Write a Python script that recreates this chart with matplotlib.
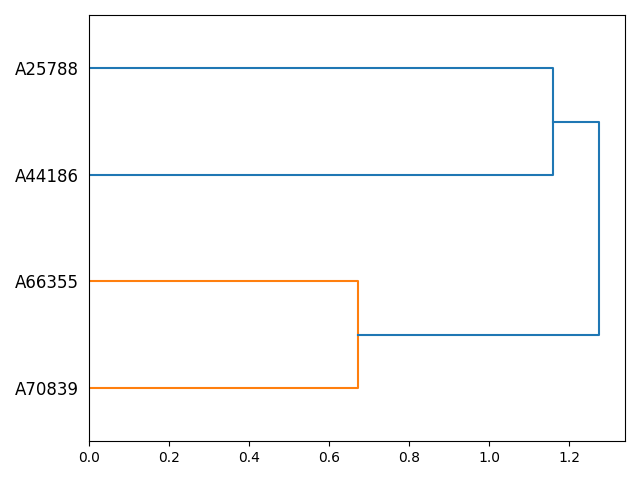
import matplotlib
matplotlib.use("Agg")
import matplotlib.pyplot as plt

# Leaf labels, bottom to top
labels = ["A70839", "A66355", "A44186", "A25788"]

# Merge heights (distances)
h_orange = 0.672
h_blue_top = 1.16
h_root = 1.275

# Leaf positions as scipy lays them out (5, 15, 25, ...)
leaf_pos = [5 + 10 * i for i in range(len(labels))]

# Links as (y-coords, x-coords, colour), same form as scipy's icoord/dcoord
orange_mid = (leaf_pos[0] + leaf_pos[1]) / 2
blue_mid = (leaf_pos[2] + leaf_pos[3]) / 2
links = [
    ([leaf_pos[0], leaf_pos[0], leaf_pos[1], leaf_pos[1]], [0, h_orange, h_orange, 0], "C1"),
    ([leaf_pos[2], leaf_pos[2], leaf_pos[3], leaf_pos[3]], [0, h_blue_top, h_blue_top, 0], "C0"),
    ([orange_mid, orange_mid, blue_mid, blue_mid], [h_orange, h_root, h_root, h_blue_top], "C0"),
]

fig, ax = plt.subplots(figsize=(6.4, 4.8), dpi=100)
for ys, xs, c in links:
    ax.plot(xs, ys, color=c)

ax.set_ylim(0, 10 * len(labels))
ax.set_xlim(0, h_root * 1.05)
ax.set_yticks(leaf_pos)
ax.set_yticklabels(labels, fontsize=12)
# hide the tick marks but keep their spacing, like scipy does
for line in ax.get_yticklines():
    line.set_visible(False)

fig.tight_layout()
fig.savefig("out.png")
